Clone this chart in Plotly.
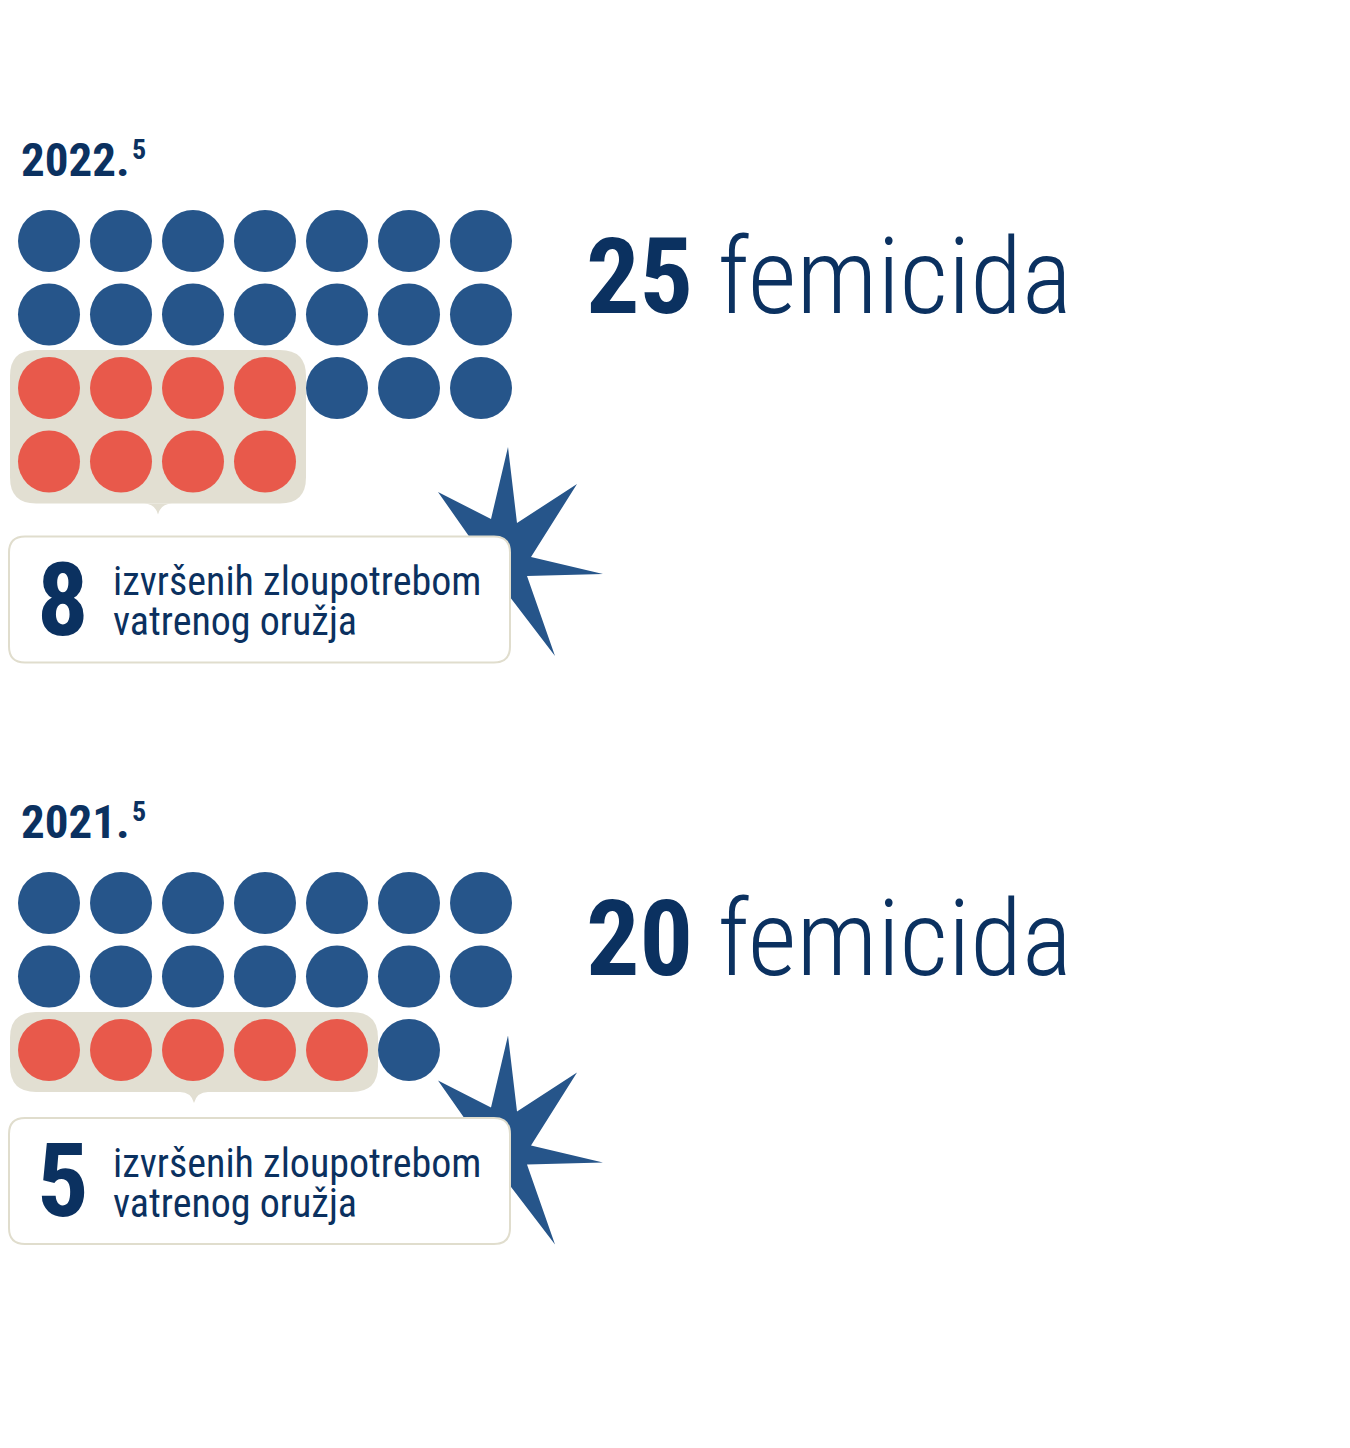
import plotly.graph_objects as go

# ---------------- data ----------------
years = ["2022.", "2021."]
footnote = ["5", "5"]
totals = [25, 20]
firearm = [8, 5]
label_total = "femicida"
label_firearm = ["izvršenih zloupotrebom", "vatrenog oružja"]

# ---------------- layout constants ----------------
W, H = 1350, 1448
OFF = 8                    # default page body margin
COLS = 7
X0, DX = 49, 72
DY = 73.5
ROW1 = [241, 903]          # y of first dot row per panel
RED_COLS = [4, 5]          # columns used by the highlighted block
BOX_GAP = [33, 26]         # gap between highlight block and info box
DOT = 62

BLUE = "#26558a"
RED = "#e8594b"
BEIGE = "#e2dfd2"
NAVY = "#0b3160"
FONT = "Roboto Condensed, Liberation Sans Narrow, Roboto, sans-serif"

fig = go.Figure()
shapes = []
annotations = []


def rrect(x0, y0, x1, y1, r):
    return (f"M {x0+r},{y0} L {x1-r},{y0} Q {x1},{y0} {x1},{y0+r} "
            f"L {x1},{y1-r} Q {x1},{y1} {x1-r},{y1} L {x0+r},{y1} "
            f"Q {x0},{y1} {x0},{y1-r} L {x0},{y0+r} Q {x0},{y0} {x0+r},{y0} Z")


STAR = [(-5, -103), (4, -27), (64, -66), (18, 7), (90, 24), (14, 26),
        (42, 106), (-13, 34), (-26, 12), (-75, -58), (-22, -31)]

for p in range(len(years)):
    total, red = totals[p], firearm[p]
    rc = RED_COLS[p]
    r0 = ROW1[p]
    blue_x, blue_y, red_x, red_y = [], [], [], []
    n_blue = total - red
    for i in range(2 * COLS):
        blue_x.append(X0 + DX * (i % COLS))
        blue_y.append(r0 + DY * (i // COLS))
    for i in range(red):
        red_x.append(X0 + DX * (i % rc))
        red_y.append(r0 + DY * (2 + i // rc))
    rem = n_blue - 2 * COLS
    for i in range(rem):
        blue_x.append(X0 + DX * (rc + i % (COLS - rc)))
        blue_y.append(r0 + DY * (2 + i // (COLS - rc)))

    red_rows = (red + rc - 1) // rc
    rx0 = 10
    rx1 = X0 + DX * (rc - 1) + 41
    ry0 = r0 + DY * 2 - 38
    ry1 = r0 + DY * (1 + red_rows) + 42
    cx = (rx0 + rx1) / 2

    # star (behind everything)
    sx, sy = 513, ry1 + 46.5
    path = "M " + " L ".join(f"{sx+a},{sy+b}" for a, b in STAR) + " Z"
    shapes.append(dict(type="path", path=path, fillcolor=BLUE, line=dict(width=0), layer="below"))

    # highlight block + pointer
    shapes.append(dict(type="path", path=rrect(rx0, ry0, rx1, ry1, 26), fillcolor=BEIGE,
                       line=dict(width=0), layer="below"))
    shapes.append(dict(type="path",
                       path=f"M {cx-14},{ry1} Q {cx-3},{ry1} {cx},{ry1+11} Q {cx+3},{ry1} {cx+14},{ry1} Z",
                       fillcolor=BEIGE, line=dict(width=0), layer="below"))

    # info box
    by0 = ry1 + BOX_GAP[p]
    by1 = by0 + 126
    shapes.append(dict(type="path", path=rrect(9, by0, 510, by1, 16), fillcolor="white",
                       line=dict(color="#e0ddcd", width=2), layer="below"))

    fig.add_trace(go.Scatter(x=blue_x, y=blue_y, mode="markers", hoverinfo="skip",
                             marker=dict(size=DOT, color=BLUE, line=dict(width=0))))
    fig.add_trace(go.Scatter(x=red_x, y=red_y, mode="markers", hoverinfo="skip",
                             marker=dict(size=DOT, color=RED, line=dict(width=0))))

    # header with footnote mark
    annotations.append(dict(x=19, y=r0 - 82, xanchor="left", yanchor="middle",
                            text=f"<b>{years[p]}</b>",
                            font=dict(family=FONT, size=47, color=NAVY), showarrow=False))
    annotations.append(dict(x=130, y=r0 - 92, xanchor="left", yanchor="middle",
                            text=f"<b>{footnote[p]}</b>",
                            font=dict(family=FONT, size=28, color=NAVY), showarrow=False))
    # big total
    annotations.append(dict(x=584, y=r0 + 36, xanchor="left", yanchor="middle",
                            text=f"<b>{total}</b> <span style='font-weight:300'>{label_total}</span>",
                            font=dict(family=FONT, size=106, color=NAVY), showarrow=False))
    # firearm number
    annotations.append(dict(x=63, y=by0 + 63, xanchor="center", yanchor="middle",
                            text=f"<b>{red}</b>",
                            font=dict(family=FONT, size=102, color=NAVY), showarrow=False))
    for j, line in enumerate(label_firearm):
        annotations.append(dict(x=111, y=by0 + 45 + 40 * j, xanchor="left", yanchor="middle",
                                align="left", text=line,
                                font=dict(family=FONT, size=40, color=NAVY), showarrow=False))

fig.update_layout(
    width=W - OFF, height=H - OFF, margin=dict(l=0, r=0, t=0, b=0),
    paper_bgcolor="white", plot_bgcolor="white", showlegend=False,
    xaxis=dict(range=[OFF, W], visible=False, fixedrange=True),
    yaxis=dict(range=[H, OFF], visible=False, fixedrange=True),
    shapes=shapes, annotations=annotations,
)
fig.write_html("out.html")
